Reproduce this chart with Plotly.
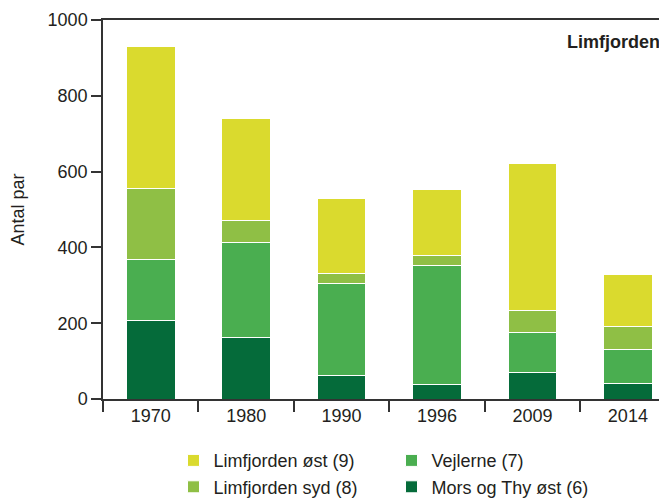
import plotly.graph_objects as go

years = ['1970', '1980', '1990', '1996', '2009', '2014']
mors_thy_oest = [206, 163, 63, 39, 70, 41]
vejlerne = [161, 250, 243, 314, 105, 89]
limfjorden_syd = [188, 59, 26, 26, 59, 60]
limfjorden_oest = [376, 269, 197, 175, 387, 138]

font = 'Liberation Sans, Arial, sans-serif'
text_col = '#231f20'

fig = go.Figure()

# stacked bottom -> top, legend ranks give the row-wise legend order
series = [
    ('Mors og Thy øst (6)', mors_thy_oest, 'rgb(5,107,58)', 4),
    ('Vejlerne (7)', vejlerne, 'rgb(74,174,80)', 2),
    ('Limfjorden syd (8)', limfjorden_syd, 'rgb(143,191,69)', 3),
    ('Limfjorden øst (9)', limfjorden_oest, 'rgb(218,218,46)', 1),
]
for name, vals, col, rank in series:
    fig.add_trace(go.Bar(
        x=years, y=vals, name=name, legendrank=rank,
        marker=dict(color=col, line=dict(color='white', width=1)),
        width=0.51
    ))

fig.add_annotation(
    text='<b>Limfjorden</b>', xref='paper', yref='paper',
    x=0.991, y=0.942, xanchor='right', yanchor='middle', showarrow=False,
    font=dict(family=font, size=18, color=text_col)
)

# page body has an 8px margin, so the figure is shrunk by that amount
fig.update_layout(
    barmode='stack',
    width=659, height=491,
    margin=dict(l=95, r=0, t=12, b=100, autoexpand=False),
    plot_bgcolor='white', paper_bgcolor='white',
    font=dict(family=font, size=18, color=text_col),
    legend=dict(
        orientation='h', x=0.125, y=-0.114, xanchor='left', yanchor='top',
        entrywidthmode='pixels', entrywidth=173,
        font=dict(family=font, size=18, color=text_col),
        traceorder='normal'
    )
)

fig.update_xaxes(
    type='category', range=[-0.5, 5.41],
    showline=True, linecolor='#333', linewidth=1.5, mirror=True,
    ticks='outside', tickson='boundaries', ticklen=11, tickcolor='#333', tickwidth=1.5,
    showgrid=False
)
fig.update_yaxes(
    range=[0, 1000], dtick=200,
    showline=True, linecolor='#333', linewidth=1.5,
    ticks='outside', ticklen=10, tickcolor='#333', tickwidth=1.5,
    showgrid=False, zeroline=False,
    title=dict(text='Antal par', standoff=18, font=dict(size=18))
)

fig.write_html('out.html')
